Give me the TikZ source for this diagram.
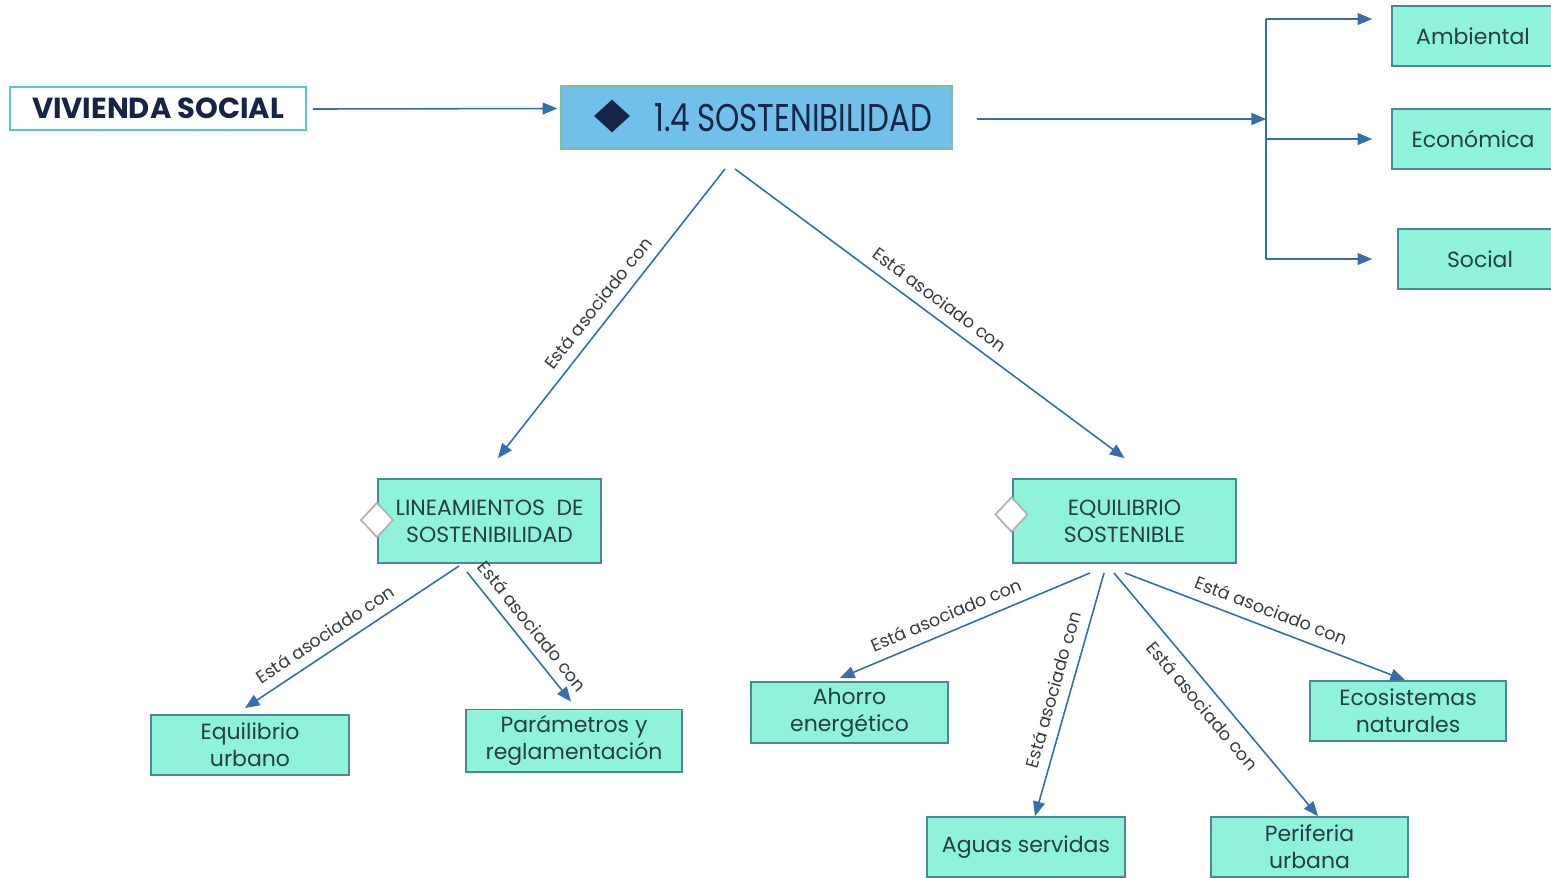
\documentclass[tikz,border=0pt]{standalone}
\usepackage{fontspec}
\setmainfont{Poppins}
\newfontfamily\titlefont[FakeStretch=0.8]{Poppins}
\usetikzlibrary{positioning, arrows, calc, shapes.geometric}

\definecolor{boxfill}{RGB}{143,243,217}
\definecolor{boxline}{RGB}{74,138,150}
\definecolor{boxtext}{RGB}{38,62,70}
\definecolor{mainfill}{RGB}{112,192,233}
\definecolor{mainline}{RGB}{128,192,150}
\definecolor{navy}{RGB}{22,36,72}
\definecolor{linkblue}{RGB}{52,110,175}
\definecolor{tagtext}{RGB}{55,60,65}
\definecolor{headline}{RGB}{92,200,205}

\tikzset{
	box/.style={draw=boxline, fill=boxfill, line width=1.1pt, minimum width=3.96cm, minimum height=1.2cm, align=center, text=boxtext, font=\fontsize{12.5}{15.5}\selectfont},
	link/.style={draw=linkblue, line width=0.9pt, -triangle 45},
	tag/.style={font=\fontsize{10}{12}\selectfont, text=tagtext, sloped, midway, inner sep=5.5pt},
	knob/.style={diamond, draw=gray!60, fill=white, line width=1pt, minimum width=0.66cm, minimum height=0.7cm, inner sep=0pt}
}

\begin{document}
\begin{tikzpicture}[x=0.02cm, y=-0.02cm]
	\clip (0,0) rectangle (1551,877);
	\fill[white] (0,0) rectangle (1551,877);

	\node[draw=headline, fill=white, line width=1.1pt, minimum width=5.92cm, minimum height=0.86cm, text=navy, font=\bfseries\fontsize{16.5}{19}\selectfont] (viv) at (158,108.5) {VIVIENDA SOCIAL};
	\node[draw=mainline, fill=mainfill, line width=1.1pt, minimum width=7.82cm, minimum height=1.26cm, inner xsep=0.4cm, text width=7.02cm, align=right, text=navy, font=\titlefont\fontsize{22}{26}\selectfont] (sost) at (756.5,117.5) {1.4\hspace{0.18em}SOSTENIBILIDAD};
	\node[diamond, fill=navy, minimum width=0.72cm, minimum height=0.66cm, inner sep=0pt] (mark) at (612,116) {};

	\node[box, minimum width=3.24cm] (amb) at (1473,36) {Ambiental};
	\node[box, minimum width=3.24cm] (eco) at (1473,139) {Económica};
	\node[box, minimum width=3.28cm] (soc) at (1480,259) {Social};

	\node[box, minimum width=4.46cm, minimum height=1.68cm] (lin) at (489.5,521) {LINEAMIENTOS \ DE\\SOSTENIBILIDAD};
	\node[box, minimum width=4.46cm, minimum height=1.68cm] (equ) at (1124.5,521) {EQUILIBRIO\\SOSTENIBLE};
	\node[knob] (linknob) at (377,520) {};
	\node[knob] (equknob) at (1011.5,514.5) {};

	\node[box] (eurb) at (250,745) {Equilibrio\\urbano};
	\node[box, minimum width=4.32cm, minimum height=1.18cm] (par) at (574,740.5) {Parámetros y\\reglamentación};
	\node[box, minimum width=3.94cm, minimum height=1.18cm] (aho) at (849.5,712.5) {Ahorro\\energético};
	\node[box] (agu) at (1026,847) {Aguas servidas};
	\node[box, minimum width=3.94cm] (per) at (1309.5,847) {Periferia\\urbana};
	\node[box, minimum width=3.92cm] (ecos) at (1408,711) {Ecosistemas\\naturales};

	% fork to the three dimensions
	\coordinate (fork) at (1266,119);
	\coordinate (forktop) at (1266,19);
	\coordinate (forkbot) at (1266,259);
	\draw[link] (viv.east) ++(6,0.5) -- ([xshift=-0.06cm]sost.west |- viv.east);
	\draw[link] ($(sost.east)+(24,1.5)$) -- (fork);
	\draw[draw=linkblue, line width=0.9pt] (forktop) -- (forkbot);
	\draw[link, shorten >=0.38cm] (forktop) -- (forktop -| amb.west);
	\draw[link, shorten >=0.38cm] (fork |- eco.west) -- (eco.west);
	\draw[link, shorten >=0.5cm] (forkbot) -- (forkbot -| soc.west);

	% tree
	\draw[link] ($(sost.south)+(-31.5,19)$) -- ($(lin.north)+(8.5,-20)$) node[tag, above] {Está asociado con};
	\draw[link] ($(sost.south)+(-21.5,19)$) -- ($(equ.north)+(0,-20)$) node[tag, above] {Está asociado con};

	\draw[link] ($(lin.south)+(-30.5,2)$) -- ($(eurb.north)+(-5,-6)$) node[tag, above, pos=0.58] {Está asociado con};
	\draw[link] ($(lin.south)+(-22.5,8)$) -- ($(par.north)+(-3,-7)$) node[tag, above] {Está asociado con};

	\draw[link] ($(equ.south)+(-34.5,9)$) -- ($(aho.north)+(-9.5,-3)$) node[tag, above, pos=0.55] {Está asociado con};
	\draw[link] ($(equ.south)+(-20.5,9)$) -- ($(agu.north)+(9,0)$) node[tag, above] {Está asociado con};
	\draw[link] ($(equ.south)+(-10.5,9)$) -- ($(per.north)+(8.5,0)$) node[tag, below] {Está asociado con};
	\draw[link] ($(equ.south)+(0.5,9)$) -- ($(ecos.north)+(-3,0)$) node[tag, above] {Está asociado con};
\end{tikzpicture}
\end{document}
